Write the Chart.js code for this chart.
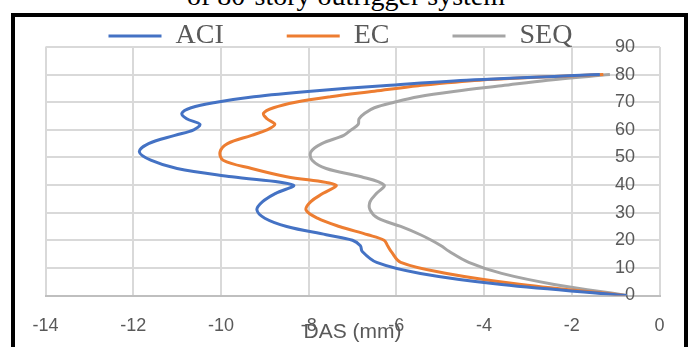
<!DOCTYPE html>
<html>

<head>
    <style>
        body {
            margin: 0;
            background: #fff;
            width: 692px;
            height: 347px;
            overflow: hidden;
            position: relative;
        }

        /* figure caption, cut off by the top of the page */
        #caption {
            position: absolute;
            top: -18px;
            left: 0;
            width: 692px;
            text-align: center;
            font-family: "Liberation Serif", serif;
            font-size: 28px;
            line-height: 28px;
            color: #000;
        }

        .chart_box {
            position: absolute;
            left: 0;
            top: 0;
            width: 692px;
            height: 347px;
        }

        #frame {
            position: absolute;
            left: 11px;
            top: 13px;
            width: 669px;
            height: 400px;
            border: 4px solid #000;
            pointer-events: none;
        }
    </style>
    <script src="https://cdn.jsdelivr.net/npm/chart.js"></script>
</head>

<body>
    <div id="caption">of 80-story outrigger system</div>
    <div class="chart_box"><canvas id="myChart"></canvas></div>
    <div id="frame"></div>

    <script>
        // story levels where the drift was read
        const stories = [0, 4, 8, 12, 16, 18, 20, 22, 25, 28, 31, 34, 37, 40, 43, 46, 49, 52, 55, 58, 60, 62, 64, 66, 68, 70, 72, 74, 76, 78, 80];

        // DAS (mm) per story
        const aciDas = [-0.75, -3.6, -5.45, -6.45, -6.78, -6.82, -7.0, -7.6, -8.5, -9.0, -9.18, -9.05, -8.75, -8.35, -9.75, -11.0, -11.6, -11.86, -11.65, -11.05, -10.62, -10.48, -10.78, -10.89, -10.68, -10.1, -9.25, -7.95, -6.3, -4.4, -1.36];
        const ecDas = [-0.78, -3.15, -4.85, -5.9, -6.12, -6.2, -6.28, -6.65, -7.3, -7.8, -8.06, -7.95, -7.67, -7.38, -8.5, -9.3, -9.95, -10.02, -9.85, -9.3, -8.95, -8.77, -8.95, -9.03, -8.8, -8.3, -7.5, -6.5, -5.5, -4.1, -1.28];
        const seqDas = [-0.75, -2.4, -3.6, -4.35, -4.8, -4.98, -5.2, -5.45, -5.9, -6.42, -6.6, -6.6, -6.45, -6.28, -6.8, -7.6, -7.92, -7.95, -7.7, -7.2, -7.03, -6.87, -6.85, -6.72, -6.5, -6.05, -5.5, -4.65, -3.6, -2.55, -1.13];

        const xTicks = [-14, -12, -10, -8, -6, -4, -2, 0];
        const yTicks = [0, 10, 20, 30, 40, 50, 60, 70, 80, 90];

        const seriesNames = ['ACI', 'EC', 'SEQ'];
        const seriesColors = ['#4472C4', '#ED7D31', '#A5A5A5'];

        function toPoints(values) {
            return values.map((v, i) => ({ x: v, y: stories[i] }));
        }

        const tickColor = '#595959';
        const gridColor = '#d9d9d9';

        const config = {
            type: 'scatter',
            data: {
                datasets: [aciDas, ecDas, seqDas].map((vals, i) => ({
                    label: seriesNames[i],
                    data: toPoints(vals),
                    showLine: true,
                    borderColor: seriesColors[i],
                    backgroundColor: seriesColors[i],
                    borderWidth: 3,
                    pointRadius: 0,
                    tension: 0.35
                }))
            },
            options: {
                responsive: true,
                maintainAspectRatio: false,
                animation: false,
                layout: {
                    // negative top lets the legend sit over the plot like in the original
                    padding: { top: -41, left: 45.5, right: 32.5, bottom: 2.4 }
                },
                plugins: {
                    tooltip: { enabled: false },
                    legend: {
                        position: 'top',
                        align: 'start',
                        maxHeight: 88,
                        labels: {
                            boxWidth: 53,
                            boxHeight: 3,
                            padding: 63,
                            color: tickColor,
                            font: { family: 'Liberation Serif', size: 28 },
                            generateLabels: chart => chart.data.datasets.map((d, i) => ({
                                text: d.label,
                                fillStyle: d.borderColor,
                                strokeStyle: d.borderColor,
                                lineWidth: 0,
                                fontColor: tickColor,
                                hidden: false,
                                datasetIndex: i
                            }))
                        }
                    }
                },
                scales: {
                    x: {
                        type: 'linear',
                        min: xTicks[0],
                        max: xTicks[xTicks.length - 1],
                        afterBuildTicks: s => { s.ticks = xTicks.map(v => ({ value: v })); },
                        ticks: {
                            color: tickColor,
                            font: { family: 'Liberation Sans', size: 18 },
                            padding: 19.7
                        },
                        grid: { color: gridColor, lineWidth: 2, drawTicks: false },
                        border: { display: true, color: '#bfbfbf', width: 2 },
                        title: {
                            display: true,
                            text: 'DAS (mm)',
                            color: tickColor,
                            font: { family: 'Liberation Sans', size: 21 },
                            // pulls the title up so it overlaps the tick labels
                            padding: { top: -37.1, bottom: 0 }
                        }
                    },
                    y: {
                        type: 'linear',
                        position: 'right',
                        min: yTicks[0],
                        max: yTicks[yTicks.length - 1],
                        afterBuildTicks: s => { s.ticks = yTicks.map(v => ({ value: v })); },
                        ticks: {
                            mirror: true,
                            padding: -24.5,
                            color: tickColor,
                            font: { family: 'Liberation Sans', size: 18 }
                        },
                        grid: { color: gridColor, lineWidth: 2, drawTicks: false },
                        border: { display: false }
                    }
                }
            }
        };

        const visual = new Chart(document.getElementById('myChart'), config);
    </script>
</body>

</html>
